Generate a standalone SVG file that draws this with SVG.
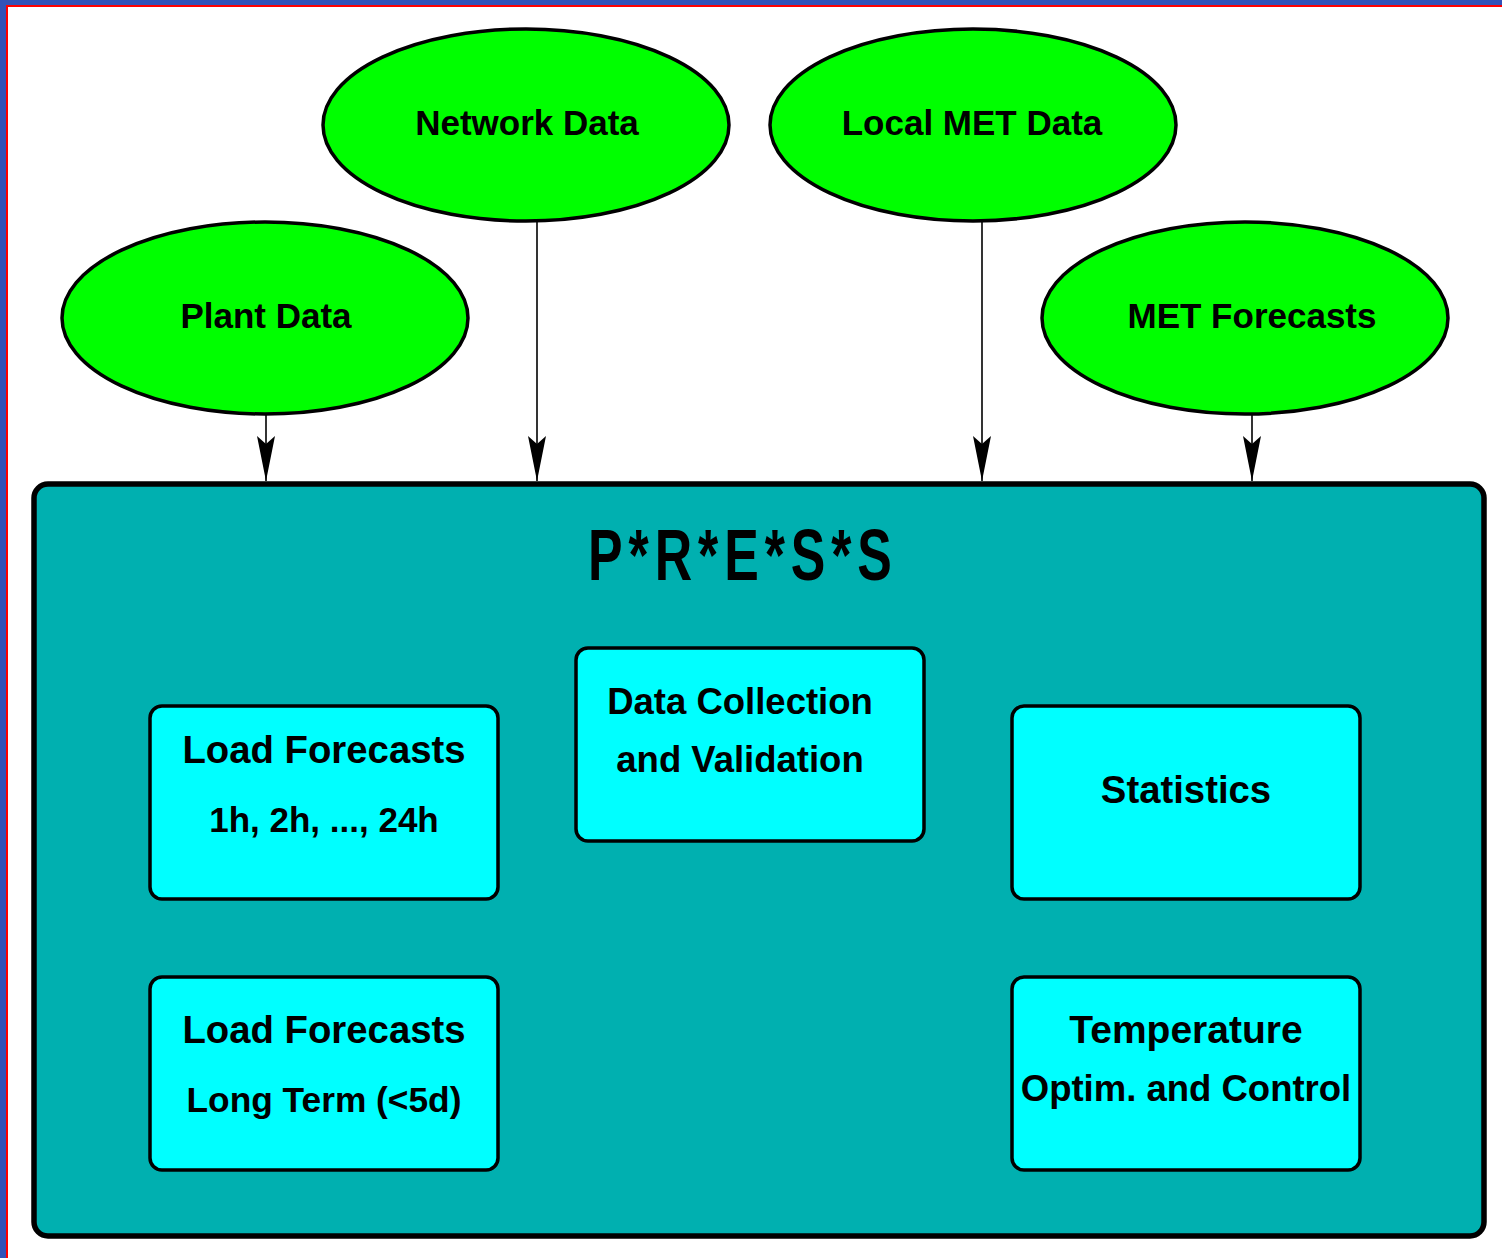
<svg xmlns="http://www.w3.org/2000/svg" width="1502" height="1258" viewBox="0 0 1502 1258">
  <defs>
    <style>
      .src ellipse { fill: #00ff00; stroke: #000; stroke-width: 3.5; }
      .box rect { fill: #00ffff; stroke: #000; stroke-width: 3.5; }
      text { font-family: "Liberation Sans", Arial, sans-serif; font-weight: bold; fill: #000; text-anchor: middle; }
      .conn line { stroke: #000; stroke-width: 1.6; fill: none; }
    </style>
    <marker id="ah" markerUnits="userSpaceOnUse" markerWidth="48" markerHeight="22" viewBox="-46 -11 48 22" refX="0" refY="0" orient="auto">
      <path d="M0,0 L-45,-9 L-37,0 L-45,9 Z" fill="#000"/>
    </marker>
  </defs>
  <rect x="0" y="0" width="1502" height="1258" fill="#fff"/>
  <rect x="0" y="0" width="1502" height="6" fill="#3152b8"/>
  <rect x="0" y="0" width="6" height="1258" fill="#3152b8"/>
  <rect x="6" y="5" width="1496" height="2" fill="#ff0000"/>
  <rect x="6" y="5" width="2" height="1253" fill="#ff0000"/>

  <g id="press">
    <rect x="34" y="484" width="1450" height="752" rx="14" ry="14" fill="#00b0b0" stroke="#000" stroke-width="5.5"/>
    <text transform="translate(740,580) scale(0.72,1)" x="0" y="0" font-size="72" textLength="422" lengthAdjust="spacing">P*R*E*S*S</text>
  </g>

  <g id="plant-data" class="src">
    <ellipse cx="265" cy="318" rx="203" ry="96"/>
    <text x="266" y="328" font-size="35">Plant Data</text>
  </g>
  <g id="network-data" class="src">
    <ellipse cx="526" cy="125" rx="203" ry="96"/>
    <text x="527" y="135" font-size="35">Network Data</text>
  </g>
  <g id="local-met-data" class="src">
    <ellipse cx="973" cy="125" rx="203" ry="96"/>
    <text x="972" y="135" font-size="35">Local MET Data</text>
  </g>
  <g id="met-forecasts" class="src">
    <ellipse cx="1245" cy="318" rx="203" ry="96"/>
    <text x="1252" y="328" font-size="35">MET Forecasts</text>
  </g>

  <g id="load-forecasts-short" class="box">
    <rect x="150" y="706" width="348" height="193" rx="12" ry="12"/>
    <text x="324" y="763" font-size="38.3">Load Forecasts</text>
    <text x="324" y="832" font-size="35">1h, 2h, ..., 24h</text>
  </g>
  <g id="data-collection" class="box">
    <rect x="576" y="648" width="348" height="193" rx="12" ry="12"/>
    <text x="740" y="714" font-size="36.5">Data Collection</text>
    <text x="740" y="772" font-size="36.5">and Validation</text>
  </g>
  <g id="statistics" class="box">
    <rect x="1012" y="706" width="348" height="193" rx="12" ry="12"/>
    <text x="1186" y="803" font-size="38.3">Statistics</text>
  </g>
  <g id="load-forecasts-long" class="box">
    <rect x="150" y="977" width="348" height="193" rx="12" ry="12"/>
    <text x="324" y="1043" font-size="38.3">Load Forecasts</text>
    <text x="324" y="1112" font-size="35.3">Long Term (&lt;5d)</text>
  </g>
  <g id="temperature" class="box">
    <rect x="1012" y="977" width="348" height="193" rx="12" ry="12"/>
    <text x="1186" y="1043" font-size="39">Temperature</text>
    <text x="1186" y="1101" font-size="36.5">Optim. and Control</text>
  </g>

  <g id="connectors" class="conn">
    <line x1="266" y1="415" x2="266" y2="481" marker-end="url(#ah)"/>
    <line x1="537" y1="222" x2="537" y2="481" marker-end="url(#ah)"/>
    <line x1="982" y1="222" x2="982" y2="481" marker-end="url(#ah)"/>
    <line x1="1252" y1="415" x2="1252" y2="481" marker-end="url(#ah)"/>
  </g>
</svg>
